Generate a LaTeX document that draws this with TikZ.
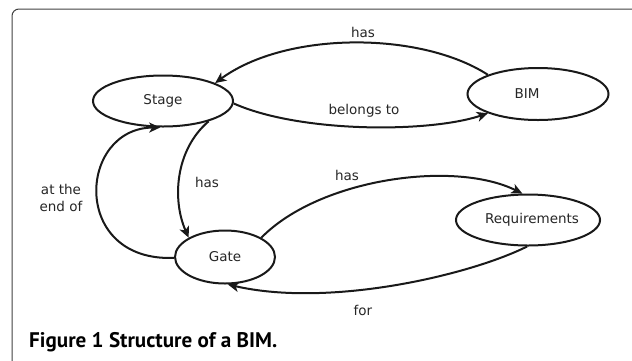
\documentclass[tikz,border=0pt]{standalone}
\usepackage{fontspec}
\setmainfont{DejaVu Sans}
\newfontfamily\capfont{PT Sans}
\usetikzlibrary{arrows.meta,shapes.geometric}
\begin{document}
\begin{tikzpicture}[x=1pt,y=-1pt,
  state/.style={ellipse,draw=black!90,line width=2pt,inner sep=0pt,
    font=\fontsize{13.5}{16}\selectfont,text=black!85},
  rel/.style={line width=2pt,draw=black!90,-{Stealth[length=11pt,width=10pt,inset=3pt]}},
  lbl/.style={font=\fontsize{13.5}{17}\selectfont,text=black!85,inner sep=0pt},
  frame/.style={line width=1pt,draw=black!75,rounded corners=7pt}]
\useasboundingbox (0,0) rectangle (632,360);
\draw[frame] (12,370) -- (12,9) -- (645,9);

\node[state,minimum width=140pt,minimum height=51pt] (stage) at (163,101) {Stage};
\node[state,minimum width=141pt,minimum height=52pt] (bim) at (538,94) {BIM\hspace*{22pt}};
\node[state,minimum width=133pt,minimum height=51pt] (req) at (528,220) {\hspace*{8pt}Requirements};
\node[state,minimum width=100pt,minimum height=53pt] (gate) at (225,257) {Gate};

\draw[rel] (bim.159) .. controls (420,31) and (286,31) .. (stage.19);
\draw[rel] (stage.-2) .. controls (300,133) and (429,133) .. (bim.201);
\draw[rel] (stage.-24) .. controls (175,150) and (172,200) .. (gate.152);
\draw[rel] (gate.181) .. controls (70,262) and (78,128) .. (stage.-96);
\draw[rel] (gate.28) .. controls (320,178) and (455,160) .. (req.102);
\draw[rel] (req.-92) .. controls (470,275) and (330,308) .. (gate.-84);

\node[lbl] (l1) at (363,32) {has};
\node[lbl] (l2) at (364,111) {belongs to};
\node[lbl] (l3) at (207,182) {has};
\node[lbl,align=center] (l4) at (61,198) {at the\\end of};
\node[lbl] (l5) at (347,175) {has};
\node[lbl] (l6) at (363,310) {for};

\node[anchor=west,inner sep=0pt] (cap) at (29,342)
  {\resizebox{248pt}{!}{\capfont\bfseries Figure 1 Structure of a BIM.}};
\end{tikzpicture}
\end{document}
